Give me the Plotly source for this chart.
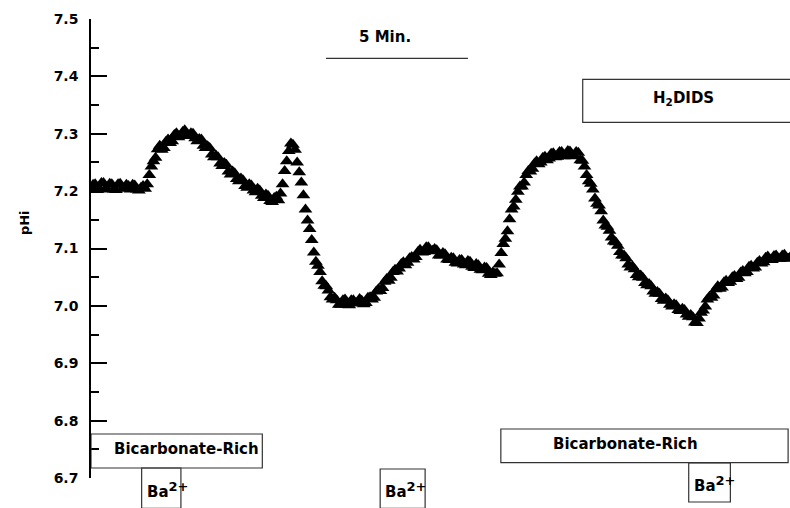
import plotly.graph_objects as go

# time step between readings (seconds) and pHi readings
dt_s = 8.8
phi = [
    7.205, 7.212, 7.204, 7.214, 7.203, 7.212, 7.202, 7.213, 7.205, 7.209,
    7.211, 7.203, 7.206, 7.204, 7.228, 7.252, 7.273, 7.272, 7.286, 7.284,
    7.298, 7.294, 7.303, 7.299, 7.301, 7.292, 7.291, 7.279, 7.278, 7.264,
    7.262, 7.248, 7.249, 7.234, 7.234, 7.221, 7.222, 7.209, 7.212, 7.201,
    7.204, 7.192, 7.194, 7.183, 7.188, 7.184, 7.212, 7.252, 7.283, 7.272,
    7.233, 7.193, 7.149, 7.115, 7.077, 7.059, 7.035, 7.027, 7.011, 7.010,
    7.002, 7.011, 7.001, 7.010, 7.006, 7.009, 7.005, 7.015, 7.014, 7.029,
    7.031, 7.047, 7.049, 7.063, 7.065, 7.076, 7.075, 7.085, 7.085, 7.098,
    7.094, 7.102, 7.096, 7.097, 7.088, 7.090, 7.080, 7.083, 7.074, 7.080,
    7.071, 7.077, 7.066, 7.071, 7.062, 7.066, 7.054, 7.056, 7.072, 7.108,
    7.130, 7.168, 7.185, 7.208, 7.215, 7.235, 7.239, 7.252, 7.250, 7.260,
    7.257, 7.266, 7.260, 7.268, 7.262, 7.269, 7.262, 7.267, 7.253, 7.228,
    7.213, 7.187, 7.175, 7.149, 7.138, 7.119, 7.111, 7.094, 7.088, 7.072,
    7.069, 7.054, 7.053, 7.040, 7.038, 7.025, 7.024, 7.012, 7.013, 7.002,
    7.003, 6.993, 6.995, 6.985, 6.984, 6.971, 6.978, 6.992, 7.011, 7.014,
    7.029, 7.030, 7.041, 7.040, 7.050, 7.047, 7.058, 7.057, 7.068, 7.065,
    7.075, 7.074, 7.084, 7.080, 7.087, 7.082, 7.088, 7.083, 7.086,
]
# readings taken half a step later than each of the above
phi_mid = [
    7.211, 7.202, 7.214, 7.205, 7.213, 7.203, 7.212, 7.204, 7.211, 7.203,
    7.210, 7.201, 7.209, 7.212, 7.243, 7.258, 7.279, 7.275, 7.290, 7.287,
    7.301, 7.296, 7.306, 7.296, 7.300, 7.287, 7.290, 7.275, 7.275, 7.259,
    7.259, 7.244, 7.246, 7.229, 7.231, 7.217, 7.219, 7.206, 7.210, 7.198,
    7.201, 7.188, 7.192, 7.181, 7.190, 7.196, 7.235, 7.270, 7.281, 7.250,
    7.215, 7.168, 7.134, 7.093, 7.070, 7.043, 7.034, 7.015, 7.014, 7.002,
    7.010, 7.002, 7.010, 7.004, 7.012, 7.003, 7.014, 7.011, 7.025, 7.026,
    7.042, 7.044, 7.059, 7.060, 7.073, 7.071, 7.083, 7.081, 7.094, 7.093,
    7.102, 7.095, 7.099, 7.088, 7.092, 7.081, 7.084, 7.075, 7.080, 7.072,
    7.078, 7.068, 7.073, 7.063, 7.067, 7.056, 7.058, 7.057, 7.092, 7.117,
    7.151, 7.173, 7.199, 7.208, 7.228, 7.234, 7.248, 7.247, 7.258, 7.254,
    7.265, 7.259, 7.268, 7.261, 7.270, 7.261, 7.268, 7.254, 7.243, 7.217,
    7.203, 7.178, 7.165, 7.140, 7.131, 7.112, 7.105, 7.088, 7.083, 7.067,
    7.064, 7.050, 7.049, 7.036, 7.034, 7.021, 7.021, 7.009, 7.010, 6.999,
    7.001, 6.991, 6.993, 6.981, 6.980, 6.970, 6.988, 6.999, 7.016, 7.018,
    7.034, 7.032, 7.044, 7.042, 7.052, 7.049, 7.061, 7.059, 7.070, 7.067,
    7.078, 7.076, 7.086, 7.080, 7.088, 7.082, 7.089, 7.082,
]

times = [i * dt_s for i in range(len(phi))] + [(i + 0.5) * dt_s for i in range(len(phi_mid))]
values = phi + phi_mid
order = sorted(range(len(times)), key=lambda k: times[k])
times = [times[k] for k in order]
values = [values[k] for k in order]

y_ticks = [6.7, 6.8, 6.9, 7.0, 7.1, 7.2, 7.3, 7.4, 7.5]

BA = "Ba<sup><span style='font-size:13px'>2+</span></sup>"
# perfusion bars: (label, start s, end s, paper y0, paper y1, label x)
bars = [
    ("Bicarbonate-Rich", 0, 362, 0.0218, 0.0959, 201),
    (BA, 107, 190, -0.066, 0.0218, None),
    (BA, 611, 706, -0.066, 0.0196, None),
    ("Bicarbonate-Rich", 866, 1473, 0.0333, 0.1068, 1130),
    (BA, 1263, 1351, -0.0523, 0.0327, None),
    ("H<sub>2</sub>DIDS", 1039, 1520, 0.7749, 0.8686, 1251),
]
scale_bar = (496.5, 796.5, 0.9144, "5 Min.")

FONT = "DejaVu Sans"

fig = go.Figure()
fig.add_trace(go.Scatter(
    x=times, y=values, mode="markers",
    marker=dict(symbol="triangle-up", size=12, color="black", line=dict(width=0)),
    showlegend=False, hoverinfo="skip",
))

shapes = []
annotations = []
for label, x0, x1, y0, y1, lx in bars:
    shapes.append(dict(type="rect", xref="x", yref="paper", x0=x0, x1=x1, y0=y0, y1=y1,
                       line=dict(color="#333333", width=1.2), fillcolor="rgba(0,0,0,0)",
                       layer="above"))
    if lx is None:
        annotations.append(dict(x=x0 + 7, y=(y0 + y1) / 2 - 0.004, xref="x", yref="paper",
                                text="<b>" + label + "</b>", showarrow=False,
                                xanchor="left", yanchor="middle",
                                font=dict(family=FONT, size=15, color="black")))
    else:
        annotations.append(dict(x=lx, y=(y0 + y1) / 2 + 0.004, xref="x", yref="paper",
                                text="<b>" + label + "</b>", showarrow=False,
                                xanchor="center", yanchor="middle",
                                font=dict(family=FONT, size=15, color="black")))

sx0, sx1, sy, slabel = scale_bar
shapes.append(dict(type="line", xref="x", yref="paper", x0=sx0, x1=sx1, y0=sy, y1=sy,
                   line=dict(color="#333333", width=1.2)))
annotations.append(dict(x=(sx0 + sx1) / 2 - 25, y=0.9615, xref="x", yref="paper",
                        text="<b>" + slabel + "</b>", showarrow=False,
                        xanchor="center", yanchor="middle",
                        font=dict(family=FONT, size=15, color="black")))
annotations.append(dict(x=-0.094, y=0.556, xref="paper", yref="paper", text="<b>pHi</b>",
                        textangle=-90, showarrow=False, xanchor="center", yanchor="middle",
                        font=dict(family=FONT, size=13, color="black")))

fig.update_layout(
    width=790, height=508,
    margin=dict(l=91, r=0, t=19, b=30),
    plot_bgcolor="white", paper_bgcolor="white",
    shapes=shapes, annotations=annotations,
    xaxis=dict(visible=False, range=[0, 1477]),
    yaxis=dict(
        range=[6.7, 7.5], tickvals=y_ticks, tickformat=".1f",
        ticks="inside", ticklen=16, tickwidth=1.5, tickcolor="black",
        showline=True, linecolor="black", linewidth=1.5,
        showgrid=False, zeroline=False, ticklabelstandoff=8,
        tickfont=dict(family=FONT, size=14, color="black", weight="bold"),
        minor=dict(ticks="inside", ticklen=8, dtick=0.05, tickwidth=1.5,
                   tickcolor="black", showgrid=False),
    ),
)

fig.write_html("out.html")
